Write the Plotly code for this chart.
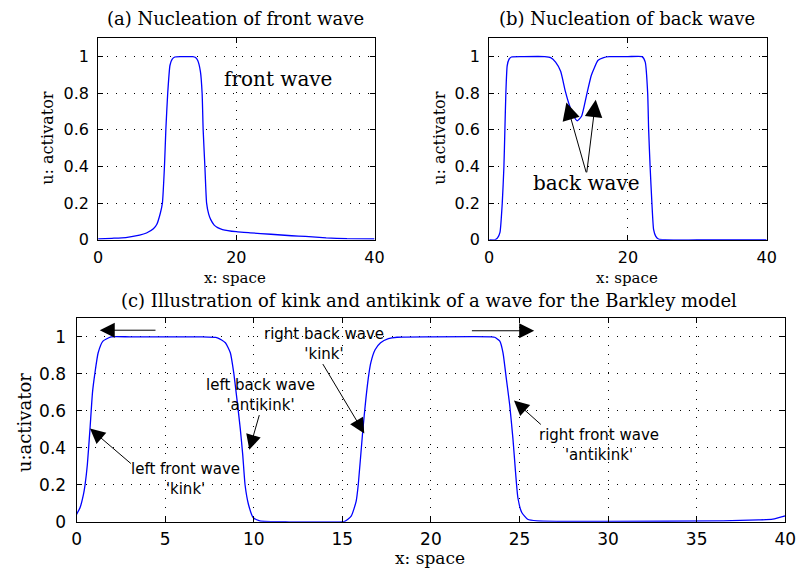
import plotly.graph_objects as go

# (a) nucleation of a front wave: activator u along x
x_front = [0, 2, 4, 6, 7, 8, 8.5, 9, 9.3, 9.6, 9.8, 10.07, 10.4, 10.7, 11.1, 12, 13,
           13.7, 14.1, 14.4, 14.8, 15.05, 15.2, 15.45, 15.7, 16.0, 16.3, 16.8, 17.3,
           18, 20, 22, 25, 28, 30, 33, 36, 40]
u_front = [0.005, 0.008, 0.012, 0.025, 0.037, 0.06, 0.085, 0.145, 0.2, 0.4, 0.6, 0.8,
           0.953, 0.985, 0.998, 1.0, 1.0, 1.0, 0.995, 0.98, 0.92, 0.8, 0.6, 0.4, 0.2,
           0.14, 0.11, 0.08, 0.066, 0.056, 0.044, 0.038, 0.03, 0.022, 0.018, 0.01,
           0.006, 0.005]

# (b) nucleation of a back wave
x_back = [0, 0.8, 1.2, 1.55, 1.88, 2.12, 2.26, 2.4, 2.59, 2.85, 3.2, 5, 8, 8.86, 9.57,
          10.3, 10.98, 11.6, 12.16, 12.7, 13.33, 14.04, 14.74, 15.7, 16.5, 17.3, 20,
          22.05, 22.5, 22.85, 22.99, 23.2, 23.46, 23.7, 24.0, 24.4, 25.3, 30, 40]
u_back = [0, 0, 0.01, 0.04, 0.2, 0.4, 0.6, 0.8, 0.95, 0.985, 0.998, 1.0, 1.0, 0.995,
          0.97, 0.92, 0.81, 0.73, 0.676, 0.65, 0.676, 0.79, 0.9, 0.98, 0.995, 1.0, 1.0,
          1.0, 0.97, 0.8, 0.6, 0.4, 0.2, 0.057, 0.02, 0.004, 0, 0, 0]

# (c) kink / antikink profile of the Barkley model
x_kink = [0, 0.2, 0.39, 0.48, 0.61, 0.76, 0.9, 1.03, 1.22, 1.49, 1.95, 3, 5, 7, 7.95,
          8.4, 8.68, 8.87, 9.05, 9.24, 9.38, 9.51, 9.7, 9.97, 10.34, 12, 14, 15.14,
          15.5, 15.78, 15.9, 16.15, 16.33, 16.5, 16.61, 16.85, 17.16, 17.6, 18.09, 20,
          23.43, 23.6, 23.89, 24.07, 24.26, 24.45, 24.63, 24.76, 24.91, 25.13, 25.46,
          26.0, 30, 36.5, 38.5, 39.3, 40]
u_kink = [0.04, 0.077, 0.148, 0.2, 0.31, 0.504, 0.7, 0.8, 0.914, 0.977, 1.0, 1.0, 1.0,
          1.0, 0.995, 0.968, 0.914, 0.807, 0.665, 0.504, 0.362, 0.2, 0.095, 0.023,
          0.005, 0, 0, 0.002, 0.03, 0.11, 0.2, 0.487, 0.665, 0.8, 0.861, 0.93, 0.968,
          0.99, 0.998, 1.0, 1.0, 0.998, 0.977, 0.914, 0.772, 0.63, 0.45, 0.29, 0.13,
          0.05, 0.014, 0.005, 0.002, 0.005, 0.01, 0.014, 0.032]

y_ticks = [0, 0.2, 0.4, 0.6, 0.8, 1]
y_tick_text = ["0", "0.2", "0.4", "0.6", "0.8", "1"]
x_ticks_ab = [0, 20, 40]
x_ticks_c = [0, 5, 10, 15, 20, 25, 30, 35, 40]

W, H = 808, 576
SERIF = "DejaVu Serif"
SANS = "DejaVu Sans"
BLUE = "#0000ff"

fig = go.Figure()
for xs, us, xa, ya in [(x_front, u_front, "x", "y"),
                       (x_back, u_back, "x2", "y2"),
                       (x_kink, u_kink, "x3", "y3")]:
    fig.add_trace(go.Scatter(x=xs, y=us, xaxis=xa, yaxis=ya, mode="lines",
                             line=dict(color=BLUE, width=1.3, shape="spline",
                                       smoothing=0.5),
                             showlegend=False, hoverinfo="skip"))


def px_x(p):
    return p / W


def px_y(p):
    return 1 - p / H


def axis(domain, tickvals, ticktext=None, standoff=6, size=17, anchor=None):
    d = dict(domain=domain, range=[0, 40], tickmode="array", tickvals=tickvals,
             showline=True, linecolor="black", linewidth=1, mirror="ticks",
             ticks="inside", ticklen=5, tickcolor="black",
             showgrid=True, gridcolor="black", griddash="1px,8px", gridwidth=1,
             zeroline=False, ticklabelstandoff=standoff,
             tickfont=dict(family=SANS, size=size, color="black"))
    if ticktext is not None:
        d["ticktext"] = ticktext
    if anchor is not None:
        d["anchor"] = anchor
    return d


dom_y_ab = [px_y(244), px_y(39)]
dom_y_c = [px_y(531), px_y(324)]

xa1 = axis([px_x(95), px_x(377)], x_ticks_ab, standoff=3, size=16, anchor="y")
ya1 = axis(dom_y_ab, y_ticks, y_tick_text, standoff=5, size=16, anchor="x")
ya1["range"] = [0, 1.1]
xa2 = axis([px_x(494), px_x(777)], x_ticks_ab, standoff=3, size=16, anchor="y2")
ya2 = axis(dom_y_ab, y_ticks, y_tick_text, standoff=5, size=16, anchor="x2")
ya2["range"] = [0, 1.1]
xa3 = axis([px_x(73), px_x(796)], x_ticks_c, standoff=2, anchor="y3")
ya3 = axis(dom_y_c, y_ticks, y_tick_text, standoff=6, anchor="x3")
ya3["range"] = [0, 1.1]

annotations = []


def paper_text(text, x, y, size, family=SERIF, angle=0):
    annotations.append(dict(text=text, x=px_x(x), y=px_y(y), xref="paper",
                            yref="paper", showarrow=False, textangle=angle,
                            xanchor="center", yanchor="middle",
                            font=dict(family=family, size=size, color="black")))


# panel titles
paper_text("(a) Nucleation of front wave", 235, 19, 18)
paper_text("(b) Nucleation of back wave", 635, 19, 18)
paper_text("(c) Illustration of kink and antikink of a wave for the Barkley model",
           433, 306, 18)

# axis titles
paper_text("x: space", 235, 283, 15)
paper_text("x: space", 635, 283, 15)
paper_text("x: space", 434, 568, 17)
paper_text("u: activator", 43, 141, 16, angle=-90)
paper_text("u: activator", 443, 141, 16, angle=-90)
paper_text("u:activator", 20, 430, 18, angle=-90)


def data_text(text, x, y, xr, yr, size, family):
    annotations.append(dict(text=text, x=x, y=y, xref=xr, yref=yr, showarrow=False,
                            xanchor="center", yanchor="middle",
                            font=dict(family=family, size=size, color="black")))


def arrow(x0, y0, x1, y1, xr, yr, size):
    annotations.append(dict(text="", x=x1, y=y1, ax=x0, ay=y0, xref=xr, yref=yr,
                            axref=xr, ayref=yr, showarrow=True, arrowhead=2,
                            arrowsize=size, arrowwidth=1, arrowcolor="black",
                            standoff=0, startstandoff=0))


data_text("front wave", 26.0, 0.88, "x", "y", 20, SERIF)

data_text("back wave", 14.1, 0.31, "x2", "y2", 20, SERIF)
arrow(14.04, 0.36, 11.12, 0.75, "x2", "y2", 3.5)
arrow(14.04, 0.36, 15.36, 0.765, "x2", "y2", 3.5)

data_text("left front wave<br>'kink'", 6.14, 0.23, "x3", "y3", 15, SANS)
arrow(3.15, 0.308, 0.76, 0.504, "x3", "y3", 3)
data_text("left back wave<br>'antikink'", 10.4, 0.685, "x3", "y3", 15, SANS)
arrow(10.34, 0.585, 9.75, 0.389, "x3", "y3", 3)
data_text("right back wave<br>'kink'", 13.94, 0.96, "x3", "y3", 15, SANS)
arrow(13.85, 0.861, 16.24, 0.478, "x3", "y3", 3)
data_text("right front wave<br>'antikink'", 29.5, 0.414, "x3", "y3", 15, SANS)
arrow(26.29, 0.519, 24.69, 0.656, "x3", "y3", 3)
arrow(4.54, 1.036, 1.31, 1.036, "x3", "y3", 3)
arrow(22.23, 1.033, 25.83, 1.033, "x3", "y3", 3)

fig.update_layout(
    width=W, height=H, margin=dict(l=0, r=0, t=0, b=0),
    paper_bgcolor="white", plot_bgcolor="white",
    xaxis=xa1, yaxis=ya1, xaxis2=xa2, yaxis2=ya2, xaxis3=xa3, yaxis3=ya3,
    annotations=annotations, showlegend=False,
)

fig.write_html("out.html")
